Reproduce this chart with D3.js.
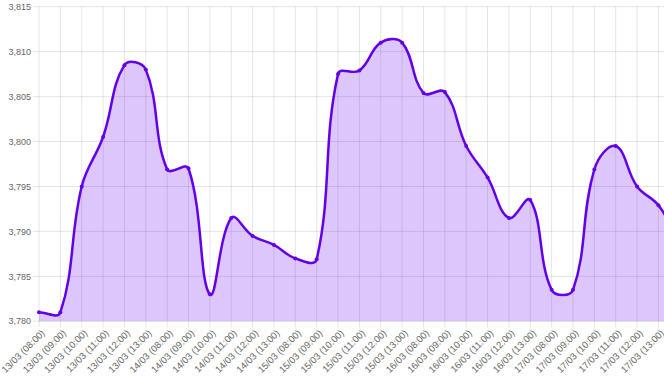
<!DOCTYPE html>
<html>
<head>
<meta charset="utf-8">
<script src="https://cdn.jsdelivr.net/npm/d3@7"></script>
<style>
  html, body { margin: 0; padding: 0; background: #fff; overflow: hidden; }
  #graph01 { width: 664px; height: 378px; overflow: hidden; }
  text { font-family: "Helvetica Neue", Helvetica, Arial, "Liberation Sans", sans-serif; fill: #666; }
</style>
</head>
<body>
<div id="graph01"></div>
<script>
// カテゴリ（最後の1点は画面外）
const labels = [
    "13/03 (08:00)", "13/03 (09:00)", "13/03 (10:00)", "13/03 (11:00)", "13/03 (12:00)", "13/03 (13:00)",
    "14/03 (08:00)", "14/03 (09:00)", "14/03 (10:00)", "14/03 (11:00)", "14/03 (12:00)", "14/03 (13:00)",
    "15/03 (08:00)", "15/03 (09:00)", "15/03 (10:00)", "15/03 (11:00)", "15/03 (12:00)", "15/03 (13:00)",
    "16/03 (08:00)", "16/03 (09:00)", "16/03 (10:00)", "16/03 (11:00)", "16/03 (12:00)", "16/03 (13:00)",
    "17/03 (08:00)", "17/03 (09:00)", "17/03 (10:00)", "17/03 (11:00)", "17/03 (12:00)", "17/03 (13:00)",
    ""
];
// 値
const values = [
    3781.0, 3781.0, 3795.0, 3800.5, 3808.5, 3808.0,
    3796.9, 3797.0, 3783.0, 3791.5, 3789.5, 3788.5,
    3787.0, 3786.9, 3807.5, 3807.9, 3811.0, 3811.0,
    3805.4, 3805.5, 3799.5, 3796.0, 3791.5, 3793.5,
    3783.5, 3783.5, 3796.9, 3799.5, 3795.0, 3792.9,
    3788.8
];
// Y軸の目盛り
const yTicks = [3780, 3785, 3790, 3795, 3800, 3805, 3810, 3815];

(function() {
    const contents = d3.select('#graph01');
    const svg = contents.append("svg").attr("width", 700).attr("height", 378);

    const left = 39, top = 6.7, bottom = 321.3, step = 21.36;
    const right = left + step * (labels.length - 1);

    const xScale = d3.scalePoint()
        .domain(d3.range(labels.length))
        .range([left, right]);
    const yScale = d3.scaleLinear()
        .domain([yTicks[0], yTicks[yTicks.length - 1]])
        .range([bottom, top]);

    const grid = "rgba(0,0,0,0.1)";

    // 横のグリッド線
    svg.append("g")
        .selectAll("line")
        .data(yTicks)
        .join("line")
        .attr("x1", left - 6).attr("x2", 700)
        .attr("y1", d => yScale(d)).attr("y2", d => yScale(d))
        .attr("stroke", grid).attr("stroke-width", 1);

    // 縦のグリッド線
    svg.append("g")
        .selectAll("line")
        .data(d3.range(labels.length))
        .join("line")
        .attr("x1", d => xScale(d)).attr("x2", d => xScale(d))
        .attr("y1", top).attr("y2", bottom + 6)
        .attr("stroke", grid).attr("stroke-width", 1);

    // Y軸ラベル
    const fmt = d3.format(",");
    svg.append("g")
        .selectAll("text")
        .data(yTicks)
        .join("text")
        .attr("x", left - 8)
        .attr("y", d => yScale(d))
        .attr("dy", "0.35em")
        .attr("text-anchor", "end")
        .attr("font-size", 9)
        .text(d => fmt(d));

    // X軸ラベル
    svg.append("g")
        .selectAll("text")
        .data(labels)
        .join("text")
        .attr("transform", (d, i) => "translate(" + (xScale(i) + 4) + "," + (bottom + 10) + ") rotate(-45)")
        .attr("dy", "0.35em")
        .attr("text-anchor", "end")
        .attr("font-size", 9.5)
        .attr("fill", "#777")
        .text(d => d);

    // Chart.js風のスプライン（tension 0.4）
    const pts = values.map((v, i) => ({ x: xScale(i), y: yScale(v) }));
    const t = 0.4;
    pts.forEach((p, i) => {
        const prev = pts[i - 1] || p, next = pts[i + 1] || p;
        const d01 = Math.hypot(p.x - prev.x, p.y - prev.y);
        const d12 = Math.hypot(next.x - p.x, next.y - p.y);
        let s01 = d01 / (d01 + d12), s12 = d12 / (d01 + d12);
        if (isNaN(s01)) s01 = 0;
        if (isNaN(s12)) s12 = 0;
        const fa = t * s01, fb = t * s12;
        const clampY = y => Math.max(top, Math.min(bottom, y));
        p.cpx1 = p.x - fa * (next.x - prev.x);
        p.cpy1 = clampY(p.y - fa * (next.y - prev.y));
        p.cpx2 = p.x + fb * (next.x - prev.x);
        p.cpy2 = clampY(p.y + fb * (next.y - prev.y));
    });
    function buildPath(path) {
        path.moveTo(pts[0].x, pts[0].y);
        for (let i = 1; i < pts.length; i++) {
            const a = pts[i - 1], b = pts[i];
            path.bezierCurveTo(a.cpx2, a.cpy2, b.cpx1, b.cpy1, b.x, b.y);
        }
        return path;
    }
    const linePath = buildPath(d3.path()).toString();
    const areaPath = buildPath(d3.path());
    areaPath.lineTo(pts[pts.length - 1].x, bottom);
    areaPath.lineTo(pts[0].x, bottom);
    areaPath.closePath();

    const color = d3.rgb("#6200ea");

    svg.append("path")
        .attr("d", areaPath.toString())
        .attr("fill", "rgba(98,0,234,0.22)");

    svg.append("path")
        .attr("d", linePath)
        .attr("fill", "none")
        .attr("stroke", color)
        .attr("stroke-width", 2.5);

    svg.append("g")
        .selectAll("circle")
        .data(pts)
        .join("circle")
        .attr("cx", d => d.x)
        .attr("cy", d => d.y)
        .attr("r", 2)
        .attr("fill", color);
})();
</script>
</body>
</html>
